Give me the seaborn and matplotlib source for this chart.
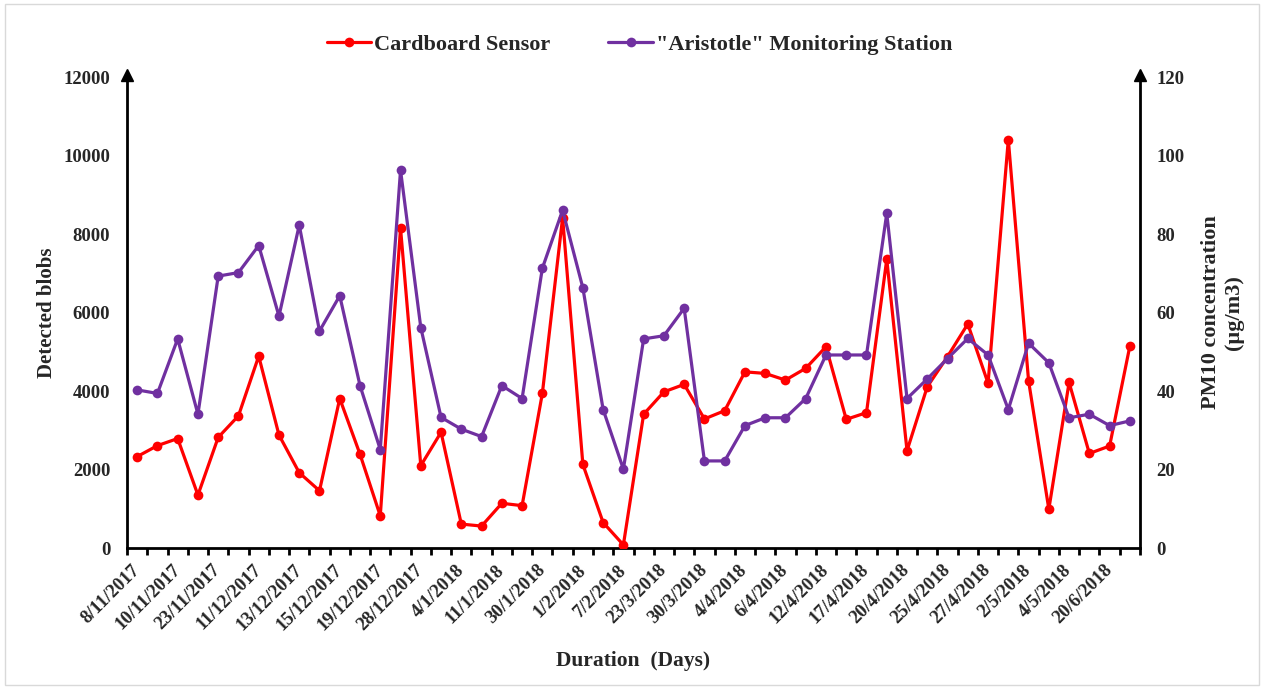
import matplotlib
matplotlib.use("Agg")
import matplotlib.pyplot as plt
import matplotlib.patches as mpatches
import seaborn as sns
import numpy as np
import pandas as pd

# Sampling days (one label shown for every second sample)
tick_labels = ["8/11/2017", "10/11/2017", "23/11/2017", "11/12/2017", "13/12/2017",
               "15/12/2017", "19/12/2017", "28/12/2017", "4/1/2018", "11/1/2018",
               "30/1/2018", "1/2/2018", "7/2/2018", "23/3/2018", "30/3/2018",
               "4/4/2018", "6/4/2018", "12/4/2018", "17/4/2018", "20/4/2018",
               "25/4/2018", "27/4/2018", "2/5/2018", "4/5/2018", "20/6/2018"]

# Detected blobs counted by the cardboard sensor
cardboard_blobs = [2330, 2610, 2790, 1350, 2820, 3370, 4890, 2880, 1920, 1460,
                   3810, 2390, 820, 8150, 2100, 2950, 610, 560, 1140, 1080,
                   3940, 8420, 2130, 650, 80, 3410, 3980, 4170, 3290, 3500,
                   4490, 4450, 4280, 4580, 5130, 3280, 3450, 7360, 2480, 4110,
                   4880, 5710, 4200, 10410, 4260, 990, 4220, 2410, 2600, 5150]

# PM10 concentration (ug/m3) from the "Aristotle" monitoring station
station_pm10 = [40.3, 39.4, 53.3, 34.1, 69.3, 70.2, 77.1, 59.1, 82.3, 55.3,
                64.3, 41.4, 25.1, 96.3, 56.2, 33.3, 30.3, 28.4, 41.4, 38.1,
                71.3, 86.1, 66.3, 35.3, 20.1, 53.3, 54.1, 61.1, 22.2, 22.2,
                31.2, 33.2, 33.2, 38.1, 49.2, 49.2, 49.2, 85.3, 38.1, 43.1,
                48.3, 53.4, 49.2, 35.3, 52.2, 47.2, 33.2, 34.1, 31.2, 32.4]

n = len(cardboard_blobs)
df = pd.DataFrame({"sample": np.arange(n),
                   "blobs": cardboard_blobs,
                   "pm10": station_pm10})

sns.set_theme(style="white")
plt.rcParams["font.family"] = ["Liberation Serif", "DejaVu Serif"]
plt.rcParams["font.weight"] = "bold"

RED = "#FF0000"
PURPLE = "#7030A0"

fig = plt.figure(figsize=(12.64, 6.89), dpi=100)
ax = fig.add_axes([0.1005, 0.2046, 0.8014, 0.6834])
ax2 = ax.twinx()

sns.lineplot(data=df, x="sample", y="blobs", ax=ax, color=RED, linewidth=2.3,
             marker="o", markersize=7, markeredgewidth=0,
             label="Cardboard Sensor", legend=False, zorder=3)
sns.lineplot(data=df, x="sample", y="pm10", ax=ax2, color=PURPLE, linewidth=2.3,
             marker="o", markersize=7, markeredgewidth=0,
             label='"Aristotle" Monitoring Station', legend=False, zorder=3)

ax.set_xlim(-0.5, n - 0.5)
ax.set_ylim(0, 12000)
ax2.set_ylim(0, 120)

# Category axis: ticks on category boundaries, labels on every second category
ax.set_xticks(np.arange(-0.5, n, 1.0), minor=True)
ax.set_xticks(np.arange(0, n, 2))
ax.set_xticklabels(tick_labels, rotation=45, ha="right", va="center",
                   rotation_mode="anchor", fontsize=13.5, fontweight="bold")
ax.tick_params(axis="x", which="minor", length=5, width=2, color="black",
               direction="out", bottom=True)
ax.tick_params(axis="x", which="major", length=0, pad=14)

ax.set_yticks(np.arange(0, 12001, 2000))
ax.set_yticklabels([str(v) for v in range(0, 12001, 2000)], fontsize=13.5,
                   fontweight="bold")
ax.tick_params(axis="y", length=0, pad=12)
ax2.set_yticks(np.arange(0, 121, 20))
ax2.set_yticklabels([str(v) for v in range(0, 121, 20)], fontsize=13.5,
                    fontweight="bold")
ax2.tick_params(axis="y", length=0, pad=12)

for a in (ax, ax2):
    a.spines["top"].set_visible(False)
    for sp in a.spines.values():
        sp.set_color("black")
        sp.set_linewidth(2)
ax.spines["right"].set_visible(False)
ax2.spines["left"].set_visible(False)
ax2.spines["bottom"].set_visible(False)

# Arrow heads on the value axes
ax.plot(0, 1.005, marker="^", color="black", markersize=9,
        transform=ax.transAxes, clip_on=False)
ax2.plot(1, 1.005, marker="^", color="black", markersize=9,
         transform=ax2.transAxes, clip_on=False)

ax.set_xlabel("Duration  (Days)", fontsize=15.5, fontweight="bold", labelpad=12)
ax.set_ylabel("Detected blobs", fontsize=15, fontweight="bold", labelpad=5)
ax2.set_ylabel("PM10 concentration\n(\u00b5g/m3)", fontsize=16,
               fontweight="bold", labelpad=12)

h1, l1 = ax.get_legend_handles_labels()
h2, l2 = ax2.get_legend_handles_labels()
fig.legend(h1 + h2, l1 + l2, loc="center", bbox_to_anchor=(0.506, 0.935),
           ncol=2, frameon=False, handlelength=2.0,
           columnspacing=2.6, handletextpad=0.15,
           prop={"weight": "bold", "size": 16})

# Light frame around the chart area
fig.patches.append(mpatches.Rectangle((0.004, 0.006), 0.992, 0.988,
                                      transform=fig.transFigure, fill=False,
                                      edgecolor="#d9d9d9", linewidth=1))

fig.savefig("out.png", dpi=100)
